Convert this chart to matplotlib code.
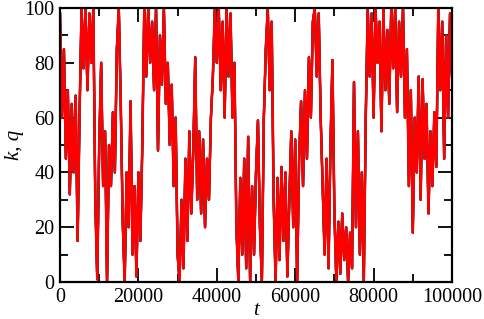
import numpy as np
import matplotlib.pyplot as plt

t_step = 500
kq = [
    98, 60, 85, 45, 70, 32, 65, 40, 68, 15,
    62, 100, 78, 100, 70, 98, 80, 100, 30, 1,
    50, 80, 35, 55, 0, 50, 35, 62, 40, 85,
    100, 65, 22, 0, 40, 20, 66, 10, 35, 2,
    40, 15, 50, 100, 75, 100, 80, 95, 70, 100,
    48, 90, 72, 100, 65, 80, 50, 72, 35, 60,
    10, 0, 30, 5, 45, 15, 55, 25, 48, 82,
    30, 55, 25, 52, 20, 45, 30, 60, 75, 100,
    80, 100, 70, 95, 60, 100, 75, 98, 60, 80,
    20, 0, 38, 10, 45, 5, 53, 0, 35, 10,
    40, 59, 20, 0, 60, 85, 100, 70, 95, 30,
    0, 38, 8, 42, 15, 40, 2, 30, 55, 20,
    52, 0, 45, 66, 35, 70, 45, 82, 60, 95,
    100, 75, 98, 60, 35, 10, 45, 5, 50, 81,
    25, 0, 22, 3, 25, 8, 20, 0, 18, 5,
    73, 20, 55, 10, 40, 0, 60, 100, 75, 98,
    60, 100, 80, 95, 55, 100, 70, 92, 65, 100,
    78, 100, 62, 95, 75, 100, 60, 85, 35, 70,
    18, 60, 40, 75, 30, 74, 45, 65, 25, 55,
    35, 62, 42, 100, 70, 95, 45, 90, 60, 98,
    75,
]
t = np.arange(len(kq)) * t_step

plt.rcParams['font.family'] = ['Liberation Serif', 'DejaVu Serif']

fig = plt.figure(figsize=(4.85, 3.19), dpi=100)
ax = fig.add_axes([60 / 485, 37 / 319, 392 / 485, 274 / 319])

# the other series sit underneath the red one
ax.plot(t, kq, color='black', lw=1.6)
ax.plot(t, kq, color='blue', lw=1.6)
ax.plot(t, kq, color='green', lw=1.6)
ax.plot(t, kq, color='red', lw=1.8)

ax.set_xlim(0, 100000)
ax.set_ylim(0, 100)
ax.set_xticks(np.arange(0, 100001, 20000))
ax.set_xticks(np.arange(0, 100001, 10000), minor=True)
ax.set_yticks(np.arange(0, 101, 20))
ax.set_yticks(np.arange(0, 101, 10), minor=True)
ax.tick_params(which='both', direction='in', top=True, right=True, labelsize=14.5, width=1.3)
ax.tick_params(which='major', length=10, pad=4)
ax.tick_params(which='minor', length=6)
for s in ax.spines.values():
    s.set_linewidth(1.6)

ax.set_xlabel('t', fontsize=15, style='italic', labelpad=-4)
ax.set_ylabel('k, q', fontsize=15, style='italic', labelpad=0)

fig.savefig('out.png', dpi=100)
